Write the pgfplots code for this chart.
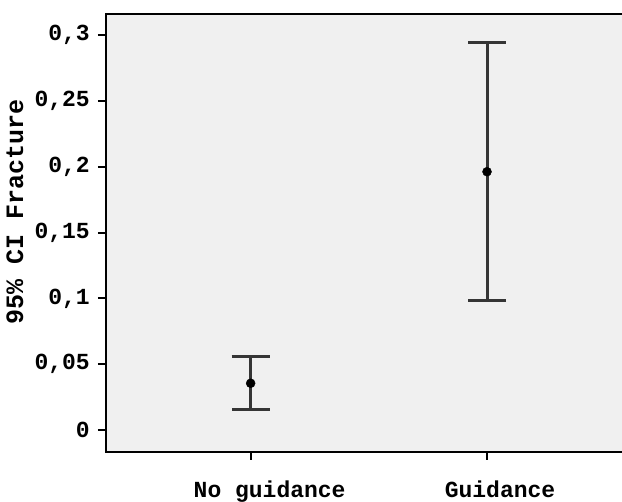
\documentclass[border=0pt]{standalone}
\usepackage{pgfplots}
\usepackage{pgfplotstable}
\pgfplotsset{compat=1.18}
\usepackage{fontspec}
\setmainfont{Liberation Mono}
\definecolor{bgfill}{HTML}{F0F0F0}
\definecolor{barcol}{HTML}{353535}
\pgfplotstableread{
x mean ep em
0 0.0355 0.0202 0.0203
1 0.1962 0.0983 0.0980
}\cidata
\begin{document}
\begin{tikzpicture}
\begin{axis}[
  scale only axis,
  width=520pt, height=438pt,
  xmin=-0.612, xmax=1.588,
  ymin=-0.0167, ymax=0.316,
  axis background/.style={fill=bgfill},
  axis line style={line width=2.5pt, black},
  xtick={0,1}, xticklabels={\hspace*{38pt}No guidance, \hspace*{26pt}Guidance},
  ytick={0,0.05,0.1,0.15,0.2,0.25,0.3},
  yticklabels={0,{0,05},{0,1},{0,15},{0,2},{0,25},{0,3}},
  xtick pos=left, ytick pos=left,
  tick align=outside,
  major tick length=8pt,
  tick style={line width=2pt, black},
  yticklabel style={font=\fontsize{23}{26}\selectfont\bfseries, inner sep=0pt, xshift=-8pt},
  xticklabel style={font=\fontsize{23}{26}\selectfont\bfseries, inner sep=0pt, yshift=-21pt},
  ylabel={95\% CI Fracture},
  ylabel style={font=\fontsize{25}{28}\selectfont\bfseries, at={(axis description cs:-0.175,0.549)}, anchor=center},
]
\addplot[only marks, mark=*, mark size=4.5pt, black,
  error bars/.cd, y dir=both, y explicit,
  error bar style={line width=3pt, barcol},
  error mark=|, error mark options={mark size=19pt, line width=3pt, barcol}]
  table[x=x, y=mean, y error plus=ep, y error minus=em] {\cidata};
\end{axis}
\pgfresetboundingbox
\path (current axis.south west) ++(-106pt,-50pt) rectangle ++(622pt,502pt);
\end{tikzpicture}
\end{document}
